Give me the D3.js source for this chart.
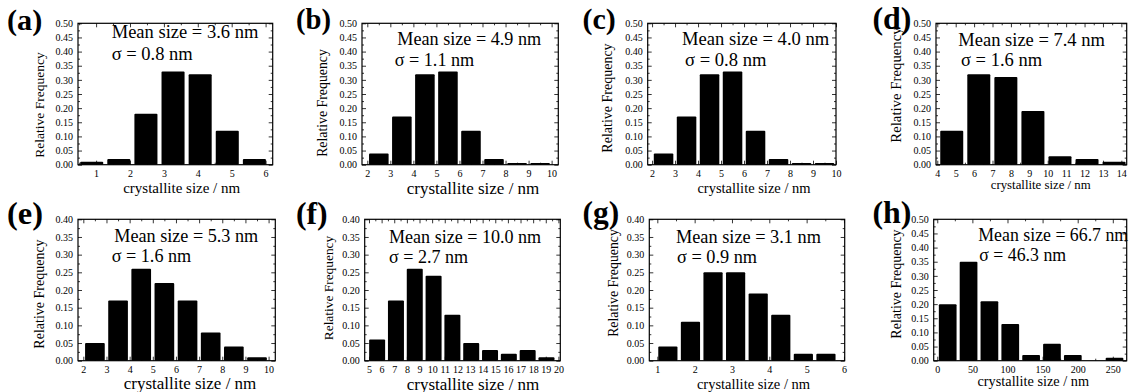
<!DOCTYPE html>
<html>
<head>
<meta charset="utf-8">
<script src="https://cdn.jsdelivr.net/npm/d3@7"></script>
<style>
body{margin:0;background:#fff;}
svg{display:block;}
</style>
</head>
<body>
<div id="chart"></div>
<script>
// data
const panelLabels=["(a)","(b)","(c)","(d)","(e)","(f)","(g)","(h)"];
const meanSizes=["3.6","4.9","4.0","7.4","5.3","10.0","3.1","66.7"];
const sigmaSizes=["0.8","1.1","0.8","1.6","1.6","2.7","0.9","46.3"];

const freqA=[0.01,0.02,0.18,0.33,0.32,0.12,0.02];
const freqB=[0.04,0.17,0.32,0.33,0.12,0.02,0.006,0.006];
const freqC=[0.04,0.17,0.32,0.33,0.12,0.02,0.006,0.006];
const freqD=[0.12,0.32,0.31,0.19,0.03,0.02,0.01];
const freqE=[0.05,0.17,0.26,0.22,0.17,0.08,0.04,0.01];
const freqF=[0.06,0.17,0.26,0.24,0.13,0.05,0.03,0.02,0.03,0.01];
const freqG=[0.04,0.11,0.25,0.25,0.19,0.13,0.02,0.02];
const freqH=[0.20,0.35,0.21,0.13,0.02,0.06,0.02,0,0.01];

const binStarts=[0.47,2,2,4.05,2,4.9,0.98,0];
const binWidths=[0.8,1,1,1.47,1,1.49,0.605,29.7];

const xTicksA=[1,2,3,4,5,6];
const xTicks2to10=[2,3,4,5,6,7,8,9,10];
const xTicksD=[4,5,6,7,8,9,10,11,12,13,14];
const xTicksF=[5,6,7,8,9,10,11,12,13,14,15,16,17,18,19,20];
const xTicksG=[1,2,3,4,5,6];
const xTicksH=[0,50,100,150,200,250];

const yMaxes=[0.5,0.5,0.5,0.5,0.4,0.4,0.4,0.5];

// layout of each panel: frame [left,right,top,bottom], x domain, text anchors
const frames=[
    [78,272.7,23.3,164.7],[362,558.3,23.3,164.7],[647.7,836,23.3,164.7],[936,1126.7,23.3,164.7],
    [78,275.3,219.3,360.7],[364.7,560.3,219.3,360.7],[649.3,844.7,219.3,360.7],[933.7,1126.7,219.3,360.7]
];
const xDomains=[[0.466,6.21],[1.77,10.29],[1.81,10.0],[3.93,14.29],
    [1.77,10.29],[4.66,20.15],[0.785,6.02],[-5.1,269.8]];
const labelPos=[[7,30],[296,28.5],[582.5,28.5],[872.5,28.5],[7,223.5],[296,223.5],[582.5,223],[872.5,223]];
const labelW=[35.3,35,33.3,39,36,31.7,36.7,39];
const meanPos=[[111.7,37.5],[397.3,45],[682,45],[958.3,46],[114.3,242],[389,242.7],[676,242.7],[978.3,241]];
const meanW=[146.7,144,147.3,146.7,144,152.3,145,150];
const sigmaPos=[[111.7,59.5],[394.7,66],[685,66],[961,66],[111.7,261.5],[389,262.7],[677,262.7],[979.3,261]];
const yTitlePos=[[44,105],[327,103],[612,98],[901,85],[44,294],[333,288],[618,283],[901,284]];
const xTitlePos=[[181.7,193],[473,193.5],[754,192.5],[1040.7,189],[190,388.5],[473,389.5],[753.5,389],[1033.3,386]];
const xTitleSize=[15,17,14.5,12.8,17,17,14.5,14.3];
const yTitleSize=[13.5,13.8,14,14.8,14,13.4,13.8,14];

const SERIF="Liberation Serif";

const freqs=[freqA,freqB,freqC,freqD,freqE,freqF,freqG,freqH];
const xTicks=[xTicksA,xTicks2to10,xTicks2to10,xTicksD,xTicks2to10,xTicksF,xTicksG,xTicksH];

// scale a text's font so that it spans the width measured on the original
function fitWidth(sel,target){
    const w=sel.node().getComputedTextLength();
    const fs=parseFloat(sel.style("font-size"));
    sel.style("font-size",(fs*target/w)+"px");
    return fs*target/w;
}

const svg=d3.select("#chart").append("svg")
    .attr("width",1135)
    .attr("height",392);
svg.append("rect").attr("width",1135).attr("height",392).attr("fill","#fff");

freqs.forEach((vals,i)=>{
    const [l,r,t,b]=frames[i];
    const x=d3.scaleLinear().domain(xDomains[i]).range([l,r]);
    const y=d3.scaleLinear().domain([0,yMaxes[i]]).range([b,t]);
    const g=svg.append("g");

    const bins=vals.map((v,k)=>({v:v,x0:binStarts[i]+k*binWidths[i]}));
    g.selectAll("rect.bar")
        .data(bins.filter(d=>d.v>0))
        .join("rect")
        .attr("class","bar")
        .attr("x",d=>x(d.x0+0.075*binWidths[i]))
        .attr("width",d=>x(d.x0+0.925*binWidths[i])-x(d.x0+0.075*binWidths[i]))
        .attr("y",d=>y(d.v))
        .attr("height",d=>y(0)-y(d.v))
        .attr("rx",1)
        .attr("fill","#000");

    // y ticks, major + minor, mirrored inside the frame
    const yMajor=d3.range(0,yMaxes[i]+1e-9,0.05);
    const yMinor=d3.range(0.025,yMaxes[i],0.05);
    const xs=xTicks[i];
    const step=xs[1]-xs[0];
    const xMinor=d3.range(xs[0]-step/2,xDomains[i][1],step).filter(v=>v>xDomains[i][0]);

    g.append("g").attr("transform",`translate(${l},0)`)
        .call(d3.axisLeft(y).tickValues(yMajor).tickSizeInner(-4).tickSizeOuter(0).tickPadding(5).tickFormat(d3.format(".2f")));
    g.append("g").attr("transform",`translate(${l},0)`)
        .call(d3.axisLeft(y).tickValues(yMinor).tickSize(-2).tickFormat(""));
    g.append("g").attr("transform",`translate(${r},0)`)
        .call(d3.axisRight(y).tickValues(yMajor).tickSize(-4).tickFormat(""));
    g.append("g").attr("transform",`translate(${r},0)`)
        .call(d3.axisRight(y).tickValues(yMinor).tickSize(-2).tickFormat(""));

    const botAx=g.append("g").attr("transform",`translate(0,${b})`)
        .call(d3.axisBottom(x).tickValues(xs).tickSizeInner(-4).tickSizeOuter(0).tickPadding(5).tickFormat(d3.format("d")));
    botAx.selectAll("text").attr("dy","0.72em");
    g.append("g").attr("transform",`translate(0,${b})`)
        .call(d3.axisBottom(x).tickValues(xMinor).tickSize(-2).tickFormat(""));
    g.append("g").attr("transform",`translate(0,${t})`)
        .call(d3.axisTop(x).tickValues(xs).tickSize(-4).tickFormat(""));
    g.append("g").attr("transform",`translate(0,${t})`)
        .call(d3.axisTop(x).tickValues(xMinor).tickSize(-2).tickFormat(""));

    g.selectAll(".domain").remove();
    g.selectAll(".tick line").attr("stroke","#000").attr("stroke-width",0.8);
    g.selectAll(".tick text")
        .attr("fill","#000")
        .style("font-family",SERIF)
        .style("font-size","10px");

    g.append("rect")
        .attr("x",l).attr("y",t)
        .attr("width",r-l).attr("height",b-t)
        .attr("fill","none")
        .attr("stroke","#000")
        .attr("stroke-width",1.2);

    const lab=g.append("text")
        .attr("x",labelPos[i][0]).attr("y",labelPos[i][1])
        .style("font-family",SERIF)
        .style("font-size","27px").style("font-weight","bold")
        .text(panelLabels[i]);
    fitWidth(lab,labelW[i]);

    const mean=g.append("text")
        .attr("x",meanPos[i][0]).attr("y",meanPos[i][1])
        .style("font-family",SERIF)
        .style("font-size","17px")
        .text(`Mean size = ${meanSizes[i]} nm`);
    const fs=fitWidth(mean,meanW[i]);
    g.append("text")
        .attr("x",sigmaPos[i][0]).attr("y",sigmaPos[i][1])
        .style("font-family",SERIF)
        .style("font-size",fs+"px")
        .text(`σ = ${sigmaSizes[i]} nm`);

    g.append("text")
        .attr("transform",`translate(${yTitlePos[i][0]},${yTitlePos[i][1]}) rotate(-90)`)
        .attr("text-anchor","middle")
        .style("font-family",SERIF)
        .style("font-size",yTitleSize[i]+"px")
        .text("Relative Frequency");

    g.append("text")
        .attr("x",xTitlePos[i][0]).attr("y",xTitlePos[i][1])
        .attr("text-anchor","middle")
        .style("font-family",SERIF)
        .style("font-size",xTitleSize[i]+"px")
        .text("crystallite size / nm");
});
</script>
</body>
</html>
